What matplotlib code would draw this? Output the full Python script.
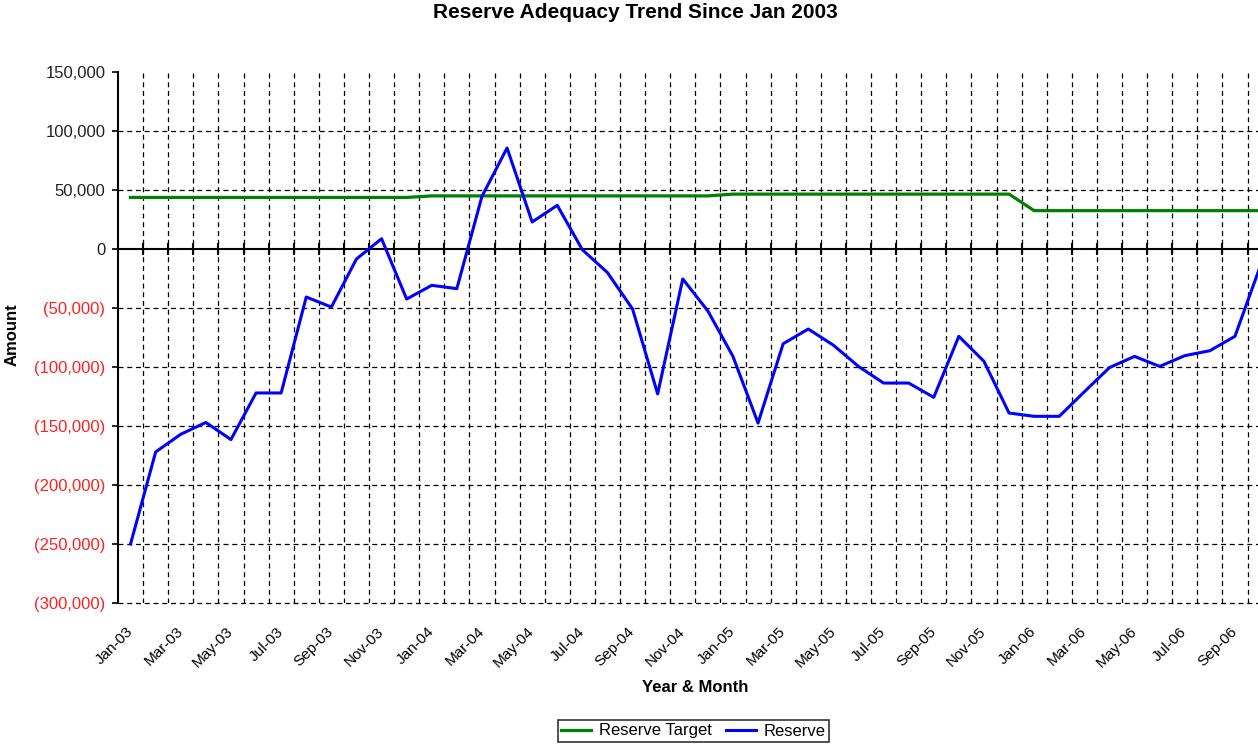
import numpy as np
import pandas as pd
import matplotlib
matplotlib.use("Agg")
import matplotlib.pyplot as plt
from matplotlib.ticker import FuncFormatter

plt.rcParams['font.family'] = ['Liberation Sans', 'DejaVu Sans']

# categories: one per month, Jan-03 .. Oct-06
months = list(pd.date_range('2003-01-01', periods=46, freq='MS').strftime('%b-%y'))

reserve_target = [43700, 43700, 43700, 43700, 43700, 43700, 43700, 43700, 43700, 43700, 43700, 43700,
                  45000, 45000, 45000, 45000, 45000, 45000, 45000, 45000, 45000, 45000, 45000, 45000,
                  46500, 46500, 46500, 46500, 46500, 46500, 46500, 46500, 46500, 46500, 46500, 46500,
                  32500, 32500, 32500, 32500, 32500, 32500, 32500, 32500, 32500, 32500]

reserve = [-250000, -172000, -157000, -147000, -161500, -122000, -122000, -40700, -49200, -8500,
           8700, -42400, -30800, -33600, 44600, 85600, 22900, 37000, -600, -20000,
           -50800, -122800, -25400, -52500, -91000, -147500, -80300, -67800, -81500, -99500,
           -113600, -113600, -125700, -74000, -95200, -139000, -141800, -141800, -121000, -100500,
           -91000, -99500, -90400, -86200, -74000, -15000]

y_ticks = [150000, 100000, 50000, 0, -50000, -100000, -150000, -200000, -250000, -300000]


def fmt_amount(v, pos=None):
    if v < 0:
        return "({:,.0f})".format(-v)
    return "{:,.0f}".format(v)


W, H = 1258, 747
fig = plt.figure(figsize=(W / 100, H / 100), dpi=100)
# the plot area runs a little past the right edge of the picture, as in the source
left, top, bottom = 118, 72, 603
right = left + len(months) * 25.1
ax = fig.add_axes([left / W, 1 - bottom / H, (right - left) / W, (bottom - top) / H])

x = np.arange(len(months))
ax.plot(x, reserve_target, color='#008000', lw=2.3, solid_joinstyle='round', label='Reserve Target', zorder=4)
ax.plot(x, reserve, color='#0000FF', lw=2.2, solid_joinstyle='round', label='Reserve', zorder=5)

ax.set_xlim(-0.5, len(months) - 0.5)
ax.set_ylim(-300000, 150000)

# y axis
ax.set_yticks(y_ticks)
ax.yaxis.set_major_formatter(FuncFormatter(fmt_amount))
ax.tick_params(axis='y', direction='out', length=4, width=1.2, pad=5, labelsize=12)
for lbl, v in zip(ax.get_yticklabels(), ax.get_yticks()):
    lbl.set_color('#ff2020' if v < 0 else '#222222')

# x axis: labels every second month, gridlines on category boundaries
ax.set_xticks(x[::2])
ax.set_xticklabels(months[::2], rotation=45, ha='right', va='center', rotation_mode='anchor')
ax.set_xticks(x[:-1] + 0.5, minor=True)
ax.tick_params(axis='x', which='both', length=0, pad=19, labelsize=11)

for s in ['top', 'right', 'bottom']:
    ax.spines[s].set_visible(False)
ax.spines['left'].set_linewidth(1.5)

ax.grid(True, which='minor', axis='x', color='black', linestyle=(0, (4, 3)), lw=0.9)
ax.grid(True, which='major', axis='y', color='black', linestyle=(0, (4, 3)), lw=0.9)
ax.grid(False, which='major', axis='x')
for t, v in zip(ax.yaxis.get_major_ticks(), y_ticks):
    if v in (0, 150000):
        t.gridline.set_visible(False)
    t.gridline.set_clip_on(False)

# zero line acts as the category axis, with tick marks on the boundaries
ax.axhline(0, color='black', lw=1.5, zorder=3)
ax.plot(x[:-1] + 0.5, np.zeros(len(x) - 1), ls='none', marker='|', ms=9, mew=1.5,
        color='black', zorder=3, clip_on=False)

fig.text(635 / W, 1 - 13 / H, 'Reserve Adequacy Trend Since Jan 2003',
         ha='center', va='center', fontsize=15, fontweight='bold')
fig.text(695 / W, 1 - 688 / H, 'Year & Month', ha='center', va='center',
         fontsize=12, fontweight='bold')
fig.text(12.5 / W, 1 - 335 / H, 'Amount', ha='center', va='center', rotation=90,
         fontsize=12, fontweight='bold')

h, l = ax.get_legend_handles_labels()
leg = fig.legend(h, l, loc='center', bbox_to_anchor=(693.6 / W, 1 - 731 / H), ncol=2,
                 fontsize=12, frameon=True, fancybox=False, edgecolor='black',
                 handlelength=1.8, columnspacing=0.8, handletextpad=0.5,
                 borderpad=0.2, borderaxespad=0)
leg.get_frame().set_linewidth(1.2)

fig.savefig('out.png', dpi=100)
